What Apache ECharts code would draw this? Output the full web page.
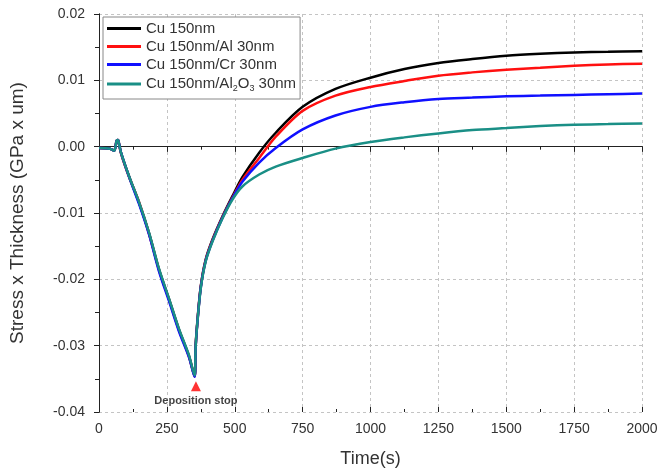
<!DOCTYPE html>
<html>
<head>
<meta charset="utf-8">
<script src="https://cdn.jsdelivr.net/npm/echarts@6/dist/echarts.min.js"></script>
<style>
  html, body { margin: 0; padding: 0; background: #fff; }
  #main { width: 664px; height: 473px; }
</style>
</head>
<body>
<div id="main"></div>
<script>
// 时间轴 (s)
var timeData = [0, 40, 56, 65, 70, 73, 81, 111, 147, 184, 221, 258, 294, 331, 352, 356, 363, 375, 393, 418, 455, 491, 528, 590, 651, 750, 871, 1000, 1125, 1250, 1375, 1500, 1625, 1750, 1875, 2000];

// 各样品的应力x厚度 (GPa x um)
var cuData   = [-0.0002, -0.0003, -0.0006, 0.0009, 0.0010, 0.0006, -0.0009, -0.0045, -0.0084, -0.0130, -0.0185, -0.0230, -0.0275, -0.0315, -0.0346, -0.0300, -0.0260, -0.0210, -0.0170, -0.0140, -0.0105, -0.0075, -0.0046, -0.0009, 0.0021, 0.0060, 0.0087, 0.0104, 0.0117, 0.0126, 0.0132, 0.0137, 0.0140, 0.0142, 0.0143, 0.0144];
var cuAlData = [-0.0002, -0.0003, -0.0006, 0.0009, 0.0010, 0.0006, -0.0010, -0.0046, -0.0083, -0.0131, -0.0186, -0.0231, -0.0276, -0.0316, -0.0346, -0.0301, -0.0261, -0.0211, -0.0171, -0.0141, -0.0106, -0.0077, -0.0050, -0.0017, 0.0015, 0.0054, 0.0077, 0.0090, 0.0099, 0.0107, 0.0112, 0.0116, 0.0119, 0.0122, 0.0124, 0.0125];
var cuCrData = [-0.0002, -0.0003, -0.0006, 0.0009, 0.0010, 0.0006, -0.0009, -0.0046, -0.0086, -0.0132, -0.0188, -0.0233, -0.0278, -0.0317, -0.0347, -0.0302, -0.0262, -0.0212, -0.0172, -0.0142, -0.0107, -0.0078, -0.0053, -0.0024, -0.0002, 0.0026, 0.0047, 0.0060, 0.0067, 0.0072, 0.0074, 0.0076, 0.0077, 0.0078, 0.0079, 0.0080];
var cuAl2O3Data = [-0.0002, -0.0003, -0.0006, 0.0009, 0.0010, 0.0006, -0.0009, -0.0045, -0.0083, -0.0129, -0.0184, -0.0229, -0.0274, -0.0314, -0.0345, -0.0301, -0.0262, -0.0213, -0.0173, -0.0143, -0.0108, -0.0080, -0.0060, -0.0042, -0.0030, -0.0017, -0.0003, 0.0007, 0.0014, 0.0020, 0.0025, 0.0028, 0.0031, 0.0033, 0.0034, 0.0035];

var seriesNames = ['Cu 150nm', 'Cu 150nm/Al 30nm', 'Cu 150nm/Cr 30nm', 'Cu 150nm/Al2O3 30nm'];
var seriesColors = ['#000000', '#ff1010', '#1010ff', '#1a8f86'];
var seriesValues = [cuData, cuAlData, cuCrData, cuAl2O3Data];

// 沉积停止标记
var stopPoint = [357, -0.0361];
var stopLabel = 'Deposition stop';

var myChart = echarts.init(document.getElementById('main'));

function pairUp(values) {
    var arr = [];
    for (var i = 0; i < timeData.length; i++) {
        arr.push([timeData[i], values[i]]);
    }
    return arr;
}

var seriesList = [];
for (var i = 0; i < seriesNames.length; i++) {
    seriesList.push({
        name: seriesNames[i],
        type: 'line',
        xAxisIndex: 0,
        yAxisIndex: 0,
        data: pairUp(seriesValues[i]),
        showSymbol: false,
        symbol: 'none',
        smooth: 0.3,
        color: seriesColors[i],
        lineStyle: { width: 2.5, color: seriesColors[i] }
    });
}
seriesList.push({
    name: 'stop',
    type: 'scatter',
    data: [stopPoint],
    symbol: 'triangle',
    symbolSize: [10, 10],
    itemStyle: { color: '#ff0000' },
    label: {
        show: true,
        position: 'bottom',
        distance: 4,
        formatter: stopLabel,
        fontFamily: 'Liberation Sans',
        fontSize: 11,
        fontWeight: 'bold',
        color: '#111'
    },
    z: 5
});

var font = 'Liberation Sans';
var xMin = 0, xMax = 2000, xStep = 250;
var yMin = -0.04, yMax = 0.02, yStep = 0.01;

var option = {
    backgroundColor: '#fff',
    animation: false,
    grid: { left: 98, right: 22, top: 14, bottom: 60 },
    legend: {
        data: seriesNames,
        orient: 'vertical',
        left: 103,
        top: 17,
        itemWidth: 34,
        itemHeight: 3,
        itemGap: 3,
        padding: [4, 4, 6, 4],
        borderColor: '#888',
        borderWidth: 1,
        backgroundColor: '#fff',
        icon: 'rect',
        formatter: function (name) {
            if (name === 'Cu 150nm/Al2O3 30nm') {
                return 'Cu 150nm/Al{sub|2}O{sub|3} 30nm';
            }
            return name;
        },
        textStyle: {
            fontFamily: font,
            fontSize: 15,
            lineHeight: 15,
            color: '#333',
            rich: {
                sub: { fontSize: 9, fontFamily: font, color: '#333', padding: [9, 0, 0, 0], lineHeight: 9 }
            }
        }
    },
    xAxis: [
        {
            type: 'value', position: 'bottom', min: xMin, max: xMax, interval: xStep,
            name: 'Time(s)', nameLocation: 'middle', nameGap: 38,
            nameTextStyle: { fontFamily: font, fontSize: 18, color: '#333' },
            axisLine: { show: true, lineStyle: { color: '#222', width: 1 } },
            axisTick: { show: true, inside: false, length: 5, lineStyle: { color: '#222' } },
            minorTick: { show: false },
            axisLabel: {
                fontFamily: font, fontSize: 14, color: '#333', margin: 10,
                formatter: function (v) { return String(v); }
            },
            splitLine: { show: true, lineStyle: { color: '#c4c4c4', type: [3, 3], width: 1 } }
        },
        {
            type: 'value', position: 'top', min: xMin, max: xMax, interval: xStep,
            axisLine: { show: true, lineStyle: { color: '#222', width: 1 } },
            axisTick: { show: true, inside: true, length: 5, lineStyle: { color: '#222' } },
            minorTick: { show: true, splitNumber: 2, length: 3, lineStyle: { color: '#222' } },
            axisLabel: { show: false },
            splitLine: { show: false }
        },
        {
            type: 'value', position: 'bottom', min: xMin, max: xMax, interval: xStep,
            axisLine: { show: false },
            axisTick: { show: true, inside: true, length: 5, lineStyle: { color: '#222' } },
            minorTick: { show: true, splitNumber: 2, length: 3, lineStyle: { color: '#222' } },
            axisLabel: { show: false },
            splitLine: { show: false }
        }
    ],
    yAxis: [
        {
            type: 'value', position: 'left', min: yMin, max: yMax, interval: yStep,
            name: 'Stress x Thickness (GPa x um)', nameLocation: 'middle', nameGap: 72,
            nameTextStyle: { fontFamily: font, fontSize: 19, color: '#333' },
            axisLine: { show: true, lineStyle: { color: '#222', width: 1 } },
            axisTick: { show: true, inside: false, length: 5, lineStyle: { color: '#222' } },
            minorTick: { show: true, splitNumber: 2, length: 4, lineStyle: { color: '#222' } },
            axisLabel: {
                fontFamily: font, fontSize: 14, color: '#333', margin: 14,
                formatter: function (v) { return v.toFixed(2); }
            },
            splitLine: { show: true, lineStyle: { color: '#c4c4c4', type: [3, 3], width: 1 } }
        },
        {
            type: 'value', position: 'right', min: yMin, max: yMax, interval: yStep,
            axisLine: { show: true, lineStyle: { color: '#222', width: 1 } },
            axisTick: { show: true, inside: true, length: 5, lineStyle: { color: '#222' } },
            minorTick: { show: true, splitNumber: 2, length: 3, lineStyle: { color: '#222' } },
            axisLabel: { show: false },
            splitLine: { show: false }
        }
    ],
    series: seriesList
};

myChart.setOption(option);
</script>
</body>
</html>
